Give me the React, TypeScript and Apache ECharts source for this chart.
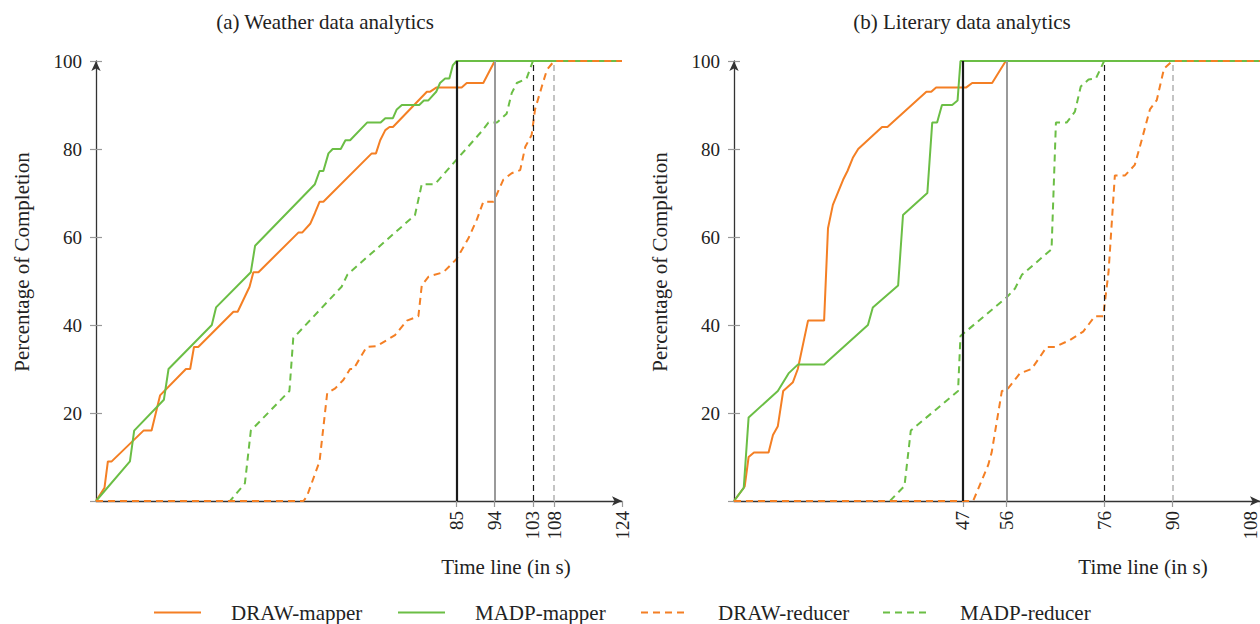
import React, { useEffect, useRef } from "react";
import * as echarts from "echarts";

// ---------- data: (a) Weather data analytics ----------
const wDrawMapperX = [0, 2, 2.8, 3.7, 11.2, 13.1, 15.1, 21.2, 22.2, 23.1, 24.1, 32.4, 33.4, 36.2, 37.1, 38.3, 47.7, 48.6, 50.5, 51.6, 52.7, 53.6, 65, 66, 67, 68.2, 69.2, 70, 78, 78.7, 80.3, 86.2, 87.4, 91.3, 94, 124];
const wDrawMapperY = [0, 3, 9, 9, 16, 16, 24, 30, 30, 35, 35, 43, 43, 48.7, 52, 52, 61, 61, 63, 65.4, 68, 68, 79, 79, 82, 84.3, 85, 85, 93, 93, 94, 94, 95, 95, 100, 100];

const wMadpMapperX = [0, 8, 9, 16, 17.1, 27.3, 28.3, 36.5, 37.5, 51.6, 52.7, 53.6, 54.8, 55.8, 57.7, 58.8, 59.9, 63.9, 67.1, 68.2, 70, 70.9, 72.1, 76.2, 77.3, 78.3, 80.2, 81.1, 82.3, 83.3, 84.1, 85, 124];
const wMadpMapperY = [0, 9, 16, 23, 30, 40, 44, 52, 58, 72, 75, 75, 79, 80, 80, 82, 82, 86, 86, 87, 87, 89, 90, 90, 91, 91, 93, 95, 96, 96, 99, 100, 100];

const wDrawReducerX = [0, 48.9, 49.7, 52.7, 54.5, 56.4, 58.3, 59.9, 60.7, 63.8, 66.2, 70.5, 73.3, 76, 76.8, 78.4, 81.9, 85, 87.8, 89.8, 91.3, 93.7, 96, 98, 100, 101.2, 102.7, 103.5, 105.1, 106.3, 108, 124];
const wDrawReducerY = [0, 0, 1, 9, 24.5, 25.6, 27.5, 30, 30, 35, 35.2, 37.7, 41, 42, 49, 51, 52, 55, 59.7, 64, 68, 68, 73, 74.5, 75.2, 80.5, 83.2, 89, 94.2, 98, 100, 100];

const wMadpReducerX = [0, 31.6, 35.1, 36.5, 45.6, 46.5, 57.9, 59.3, 75.2, 76.8, 79.9, 90.9, 92.5, 94.5, 96.8, 98, 99.2, 101.5, 103, 124];
const wMadpReducerY = [0, 0, 4, 16, 25, 37, 48.7, 51.5, 65, 72, 72, 84, 86, 86, 88, 92.7, 95, 96, 100, 100];

const wTicks = [85, 94, 103, 108, 124];
const wMarks = [85, 94, 103, 108];
const wMax = 124;

// ---------- data: (b) Literary data analytics ----------
const lDrawMapperX = [0, 2.2, 3, 4.1, 7.1, 8, 9, 10.1, 12.1, 13.1, 15.2, 18.5, 19.3, 20.3, 22.4, 23.3, 24.4, 25.5, 30.4, 31.5, 39.5, 40.5, 41.5, 47.7, 48.9, 53, 55.8, 108];
const lDrawMapperY = [0, 3.3, 10, 11, 11, 15, 17, 25, 27, 30, 41, 41, 62, 67.3, 73, 75, 78, 80, 85, 85, 93, 93, 94, 94, 95, 95, 100, 100];

const lMadpMapperX = [0, 2, 3, 9, 11.2, 13.1, 18.5, 27.5, 28.5, 33.7, 34.7, 39.7, 40.7, 41.7, 42.7, 44.8, 45.9, 46.5, 108];
const lMadpMapperY = [0, 3, 19, 25, 29, 31, 31, 40, 44, 49, 65, 70, 86, 86, 90, 90, 91, 100, 100];

const lDrawReducerX = [0, 49.1, 52.2, 52.9, 55, 56, 58.7, 61.1, 64.2, 65.9, 69, 71.7, 74.1, 75.8, 76.9, 78.2, 80.3, 82.3, 83.7, 85.4, 86.8, 88.3, 90, 108];
const lDrawReducerY = [0, 0, 8.2, 11, 25, 25.2, 29, 30, 35, 35, 36.6, 38.5, 42, 42, 52, 74, 74, 76.4, 82, 89, 91.1, 98.3, 100, 100];

const lMadpReducerX = [0, 32, 35, 36.3, 46, 46.5, 56, 57.7, 59.1, 65.2, 66.1, 68.3, 70, 71.2, 72.8, 74.3, 76, 108];
const lMadpReducerY = [0, 0, 3.4, 16, 25, 37.5, 46.3, 48.3, 51.4, 57.2, 86, 86, 88.5, 94.2, 95.8, 96, 100, 100];

const lTicks = [47, 56, 76, 90, 108];
const lMarks = [47, 56, 76, 90];
const lMax = 108;

const seriesNames = ["DRAW-mapper", "MADP-mapper", "DRAW-reducer", "MADP-reducer"];
const titles = ["(a) Weather data analytics", "(b) Literary data analytics"];
const yName = "Percentage of Completion";
const xName = "Time line (in s)";

// ---------- styling ----------
const ORANGE = "#F47F24";
const GREEN = "#6BBE45";
const FONT = '"Liberation Serif", "Times New Roman", serif';
const TEXT = "#222";
const markStyles = [
  { color: "#1a1a1a", width: 2.2, type: "solid" },
  { color: "#9a9a9a", width: 2, type: "solid" },
  { color: "#1a1a1a", width: 1.2, type: [6, 4] },
  { color: "#c4c4c4", width: 2, type: [6, 4] },
];

const zip = (xs: number[], ys: number[]) => xs.map((x, i) => [x, ys[i]]);

export default function App() {
  const ref = useRef<HTMLDivElement>(null);

  useEffect(() => {
    if (!ref.current) return;
    const chart = echarts.init(ref.current, undefined, { renderer: "svg" });

    const panels = [
      {
        left: 96,
        max: wMax,
        ticks: wTicks,
        marks: wMarks,
        edgeLabel: false,
        data: [
          zip(wDrawMapperX, wDrawMapperY),
          zip(wMadpMapperX, wMadpMapperY),
          zip(wDrawReducerX, wDrawReducerY),
          zip(wMadpReducerX, wMadpReducerY),
        ],
      },
      {
        left: 734,
        max: lMax,
        ticks: lTicks,
        marks: lMarks,
        edgeLabel: true,
        data: [
          zip(lDrawMapperX, lDrawMapperY),
          zip(lMadpMapperX, lMadpMapperY),
          zip(lDrawReducerX, lDrawReducerY),
          zip(lMadpReducerX, lMadpReducerY),
        ],
      },
    ];

    const grids: any[] = [];
    const xAxes: any[] = [];
    const yAxes: any[] = [];
    const series: any[] = [];

    const colors = [ORANGE, GREEN, ORANGE, GREEN];
    const dashes: any[] = ["solid", "solid", [7, 5], [7, 5]];
    const zs = [2, 3, 5, 4];

    panels.forEach((p, gi) => {
      grids.push({
        left: p.left,
        top: 61,
        width: 526,
        height: 440,
        containLabel: false,
        outerBoundsMode: "none",
      });
      const cats = Array.from({ length: p.max + 1 }, (_, i) => String(i));
      xAxes.push({
        type: "value",
        gridIndex: gi,
        min: 0,
        max: p.max,
        axisLine: {
          show: true,
          symbol: ["none", "arrow"],
          symbolSize: [7, 10],
          lineStyle: { color: "#333", width: 1.3 },
        },
        axisTick: { show: false },
        axisLabel: { show: false },
        splitLine: { show: false },
      });
      xAxes.push({
        type: "category",
        gridIndex: gi,
        position: "bottom",
        boundaryGap: false,
        data: cats,
        axisLine: { show: false },
        axisTick: {
          show: true,
          length: 6,
          interval: (i: number) => p.ticks.includes(i),
          lineStyle: { color: "#999", width: 1.2 },
        },
        axisLabel: {
          show: true,
          rotate: 90,
          margin: 10,
          // the label sitting on the page edge is drawn separately, nudged inside
          interval: (i: number) => p.ticks.includes(i) && !(p.edgeLabel && i === p.max),
          fontFamily: FONT,
          fontSize: 19,
          color: TEXT,
        },
        splitLine: { show: false },
      });
      yAxes.push({
        type: "value",
        gridIndex: gi,
        min: 0,
        max: 100,
        interval: 20,
        axisLine: {
          show: true,
          symbol: ["none", "arrow"],
          symbolSize: [7, 10],
          lineStyle: { color: "#333", width: 1.3 },
        },
        axisTick: { show: true, length: 6, lineStyle: { color: "#999", width: 1.2 } },
        axisLabel: {
          margin: 14,
          fontFamily: FONT,
          fontSize: 19,
          color: TEXT,
          formatter: (v: number) => (v === 0 ? "" : String(v)),
        },
        splitLine: { show: false },
      });
      yAxes.push({
        type: "value",
        gridIndex: gi,
        min: 0,
        max: 100,
        interval: 20,
        position: "left",
        axisLine: { show: false },
        axisTick: { show: true, inside: true, length: 6, lineStyle: { color: "#999", width: 1.2 } },
        axisLabel: { show: false },
        splitLine: { show: false },
      });

      p.data.forEach((d, si) => {
        const s: any = {
          name: seriesNames[si],
          type: "line",
          xAxisIndex: gi * 2,
          yAxisIndex: gi * 2,
          data: d,
          showSymbol: false,
          symbol: "none",
          z: zs[si],
          lineStyle: { color: colors[si], width: 2, type: dashes[si] },
          itemStyle: { color: colors[si] },
        };
        if (si === 0) {
          s.markLine = {
            silent: true,
            symbol: ["none", "none"],
            label: { show: false },
            z: 6,
            data: p.marks.map((m, mi) => ({ xAxis: m, lineStyle: markStyles[mi] })),
          };
        }
        series.push(s);
      });
    });

    const legendLefts = [148, 392, 635, 877];
    const legends = seriesNames.map((n, i) => ({
      left: legendLefts[i],
      top: 597,
      data: [n],
      itemWidth: 47,
      itemHeight: 20,
      selectedMode: false,
      itemStyle: { opacity: 0 },
      lineStyle: { width: 2 },
      textStyle: { fontFamily: FONT, fontSize: 21, color: TEXT, padding: [0, 0, 0, 25] },
    }));

    const txt = (text: string, x: number, y: number, rot = 0, size = 21, align = "center") => ({
      type: "text",
      x,
      y,
      rotation: rot,
      style: {
        text,
        font: `${size}px ${FONT}`,
        fill: TEXT,
        textAlign: align,
        textVerticalAlign: "middle",
        align,
        verticalAlign: "middle",
      },
    });

    chart.setOption({
      animation: false,
      backgroundColor: "#fff",
      grid: grids,
      xAxis: xAxes,
      yAxis: yAxes,
      series,
      legend: legends,
      graphic: [
        txt(titles[0], 325, 22),
        txt(titles[1], 962, 22),
        txt(yName, 22, 262, Math.PI / 2),
        txt(yName, 660, 262, Math.PI / 2),
        txt(xName, 506, 567),
        txt(xName, 1143, 567),
        txt(String(lMax), 1250, 511, Math.PI / 2, 19, "right"),
      ],
    });

    return () => chart.dispose();
  }, []);

  return (
    <div
      ref={ref}
      style={{ position: "fixed", left: 0, top: 0, width: 1260, height: 624, background: "#fff" }}
    />
  );
}
